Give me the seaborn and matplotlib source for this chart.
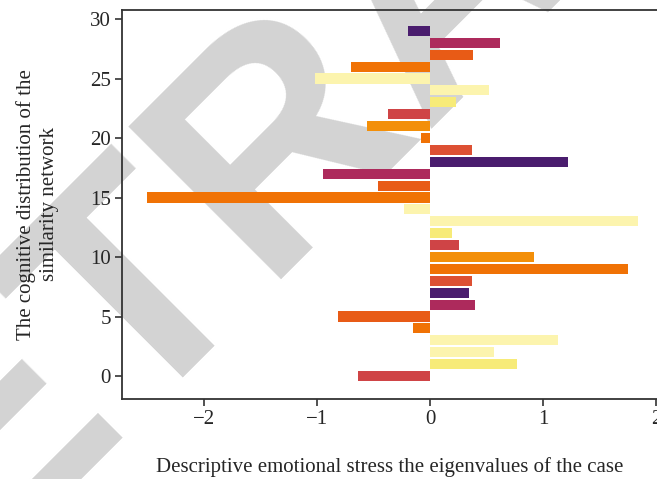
import matplotlib
matplotlib.use("Agg")
import matplotlib.pyplot as plt
import seaborn as sns
import pandas as pd

positions = list(range(30))
values = [-0.64, 0.77, 0.57, 1.13, -0.15, -0.82, 0.40, 0.34, 0.37, 1.75,
          0.92, 0.26, 0.19, 1.84, -0.23, -2.51, -0.46, -0.95, 1.22, 0.37,
          -0.085, -0.56, -0.37, 0.23, 0.52, -1.02, -0.70, 0.38, 0.62, -0.20]
bar_colors = ["#cf4446", "#f7eb78", "#fcf4ae", "#fcf4ae", "#f07205", "#e85b16",
              "#ad2a5c", "#4a1d6e", "#dd5033", "#f07205", "#f38f09",
              "#cf4446", "#f7eb78", "#fcf4ae", "#fcf4ae", "#f07205", "#e85b16",
              "#ad2a5c", "#4a1d6e", "#dd5033", "#f07205", "#f38f09",
              "#cf4446", "#f7eb78", "#fcf4ae", "#fcf4ae", "#f07205", "#e85b16",
              "#ad2a5c", "#4a1d6e"]
xticks = [-2, -1, 0, 1, 2]
yticks = [0, 5, 10, 15, 20, 25, 30]
xlabel = "Descriptive emotional stress the eigenvalues of the case"
ylabel = "The cognitive distribution of the\nsimilarity network"

df = pd.DataFrame({"pos": positions, "val": values,
                   "key": [str(p) for p in positions]})
palette = {str(p): c for p, c in zip(positions, bar_colors)}

sns.set_style("ticks")
plt.rcParams["font.family"] = ["Liberation Serif", "DejaVu Serif"]

fig = plt.figure(figsize=(6.57, 4.79), dpi=100)
fig.text(500/657, 1-40/479, "RETRACTED", rotation=45, fontsize=225,
         color="#d3d3d3", ha="center", va="baseline", rotation_mode="anchor",
         family="Liberation Sans", fontweight="bold", zorder=-5)
ax = fig.add_axes([122/657, 1-399/479, 1-122/657, (399-9.5)/479])
ax.set_facecolor("none")
sns.barplot(data=df, x="val", y="pos", hue="key", palette=palette,
            orient="y", native_scale=True, dodge=False, width=0.85,
            legend=False, ax=ax, saturation=1, linewidth=0)
ax.set_xlim(-2.73, 2.01)
ax.set_ylim(-1.93, 30.8)
ax.set_xticks(xticks)
ax.set_xticklabels(["\u22122", "\u22121", "0", "1", "2"])
ax.set_yticks(yticks)
ax.tick_params(labelsize=15, length=5, width=1.2, color="#333333", pad=3)
for s in ["left", "bottom", "top"]:
    ax.spines[s].set_visible(True)
    ax.spines[s].set_linewidth(1.3)
    ax.spines[s].set_color("#333333")
ax.spines["right"].set_visible(False)
ax.set_xlabel(xlabel, fontsize=15, labelpad=20)
ax.set_ylabel(ylabel, fontsize=15, labelpad=22, linespacing=1.3)
fig.savefig("out.png", dpi=100)
